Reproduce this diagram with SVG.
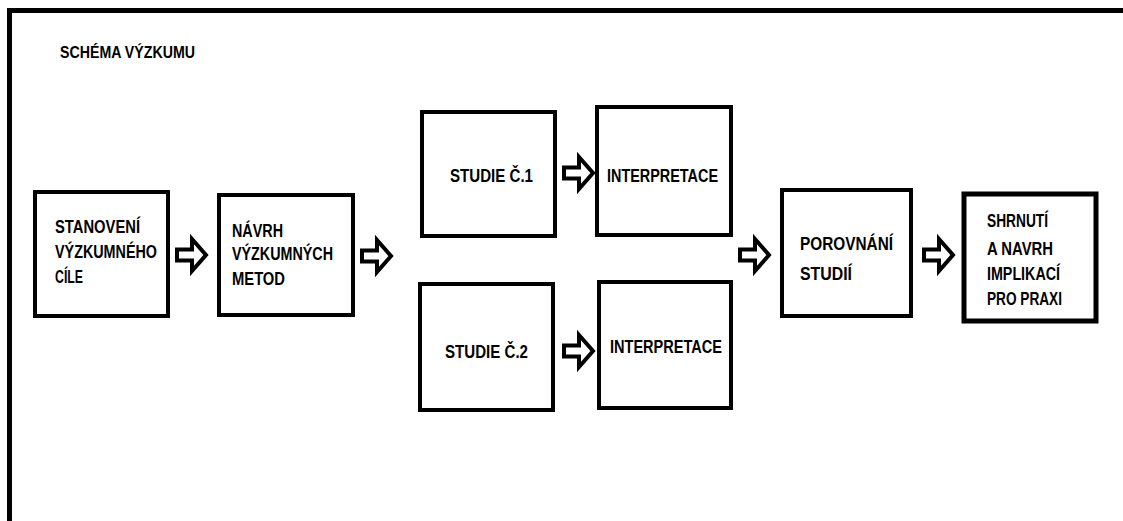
<svg xmlns="http://www.w3.org/2000/svg" xmlns:xlink="http://www.w3.org/1999/xlink" width="1123" height="521" viewBox="0 0 1123 521">
<style>
.box{fill:#fff;stroke:#000;stroke-width:4}
.t{font-family:"Liberation Sans",Arial,sans-serif;font-weight:bold;font-size:18.5px;fill:#000}
.s{font-size:17px}
.arr{fill:#fff;stroke:#000;stroke-width:4;stroke-linejoin:miter}
</style>
<defs>
<path id="blk" class="arr" d="M0,-5.5 H15 V-16 L29,0 L15,16 V5.5 H0 Z"/>
</defs>
<rect width="1123" height="521" fill="#fff"/>
<path d="M9.5,521 V10.5 H1123" fill="none" stroke="#000" stroke-width="5"/>
<text class="t s" x="60" y="58" textLength="135" lengthAdjust="spacingAndGlyphs">SCHÉMA VÝZKUMU</text>
<g id="n1">
<rect class="box" x="35" y="192" width="133" height="124"/>
<text class="t" x="55" y="233" textLength="85" lengthAdjust="spacingAndGlyphs">STANOVENÍ</text>
<text class="t" x="55" y="258" textLength="102" lengthAdjust="spacingAndGlyphs">VÝZKUMNÉHO</text>
<text class="t" x="55" y="283" textLength="28" lengthAdjust="spacingAndGlyphs">CÍLE</text>
</g>
<g id="n2">
<rect class="box" x="219" y="195" width="134" height="120"/>
<text class="t" x="232" y="237" textLength="51" lengthAdjust="spacingAndGlyphs">NÁVRH</text>
<text class="t" x="232" y="260" textLength="101" lengthAdjust="spacingAndGlyphs">VÝZKUMNÝCH</text>
<text class="t" x="232" y="285" textLength="53" lengthAdjust="spacingAndGlyphs">METOD</text>
</g>
<g id="n3">
<rect class="box" x="422" y="112" width="133" height="124"/>
<text class="t" x="450" y="182" textLength="83" lengthAdjust="spacingAndGlyphs">STUDIE Č.1</text>
</g>
<g id="n4">
<rect class="box" x="597" y="107" width="134" height="128"/>
<text class="t" x="607" y="182" textLength="111" lengthAdjust="spacingAndGlyphs">INTERPRETACE</text>
</g>
<g id="n5">
<rect class="box" x="420" y="284" width="133" height="126"/>
<text class="t" x="445" y="358" textLength="83" lengthAdjust="spacingAndGlyphs">STUDIE Č.2</text>
</g>
<g id="n6">
<rect class="box" x="599" y="282" width="132" height="126"/>
<text class="t" x="610" y="353" textLength="112" lengthAdjust="spacingAndGlyphs">INTERPRETACE</text>
</g>
<g id="n7">
<rect class="box" x="782" y="190" width="129" height="126"/>
<text class="t" x="800" y="250" textLength="93" lengthAdjust="spacingAndGlyphs">POROVNÁNÍ</text>
<text class="t" x="800" y="280" textLength="52" lengthAdjust="spacingAndGlyphs">STUDIÍ</text>
</g>
<g id="n8">
<rect class="box" x="964" y="194" width="132" height="127" style="stroke-width:5"/>
<text class="t" x="987" y="227" textLength="61" lengthAdjust="spacingAndGlyphs">SHRNUTÍ</text>
<text class="t" x="987" y="255" textLength="66" lengthAdjust="spacingAndGlyphs">A NAVRH</text>
<text class="t" x="987" y="280" textLength="73" lengthAdjust="spacingAndGlyphs">IMPLIKACÍ</text>
<text class="t" x="987" y="305" textLength="75" lengthAdjust="spacingAndGlyphs">PRO PRAXI</text>
</g>
<g id="connectors">
<use xlink:href="#blk" transform="translate(177,255)"/>
<use xlink:href="#blk" transform="translate(362,256)"/>
<use xlink:href="#blk" transform="translate(564,173)"/>
<use xlink:href="#blk" transform="translate(564,351)"/>
<use xlink:href="#blk" transform="translate(740,255)"/>
<use xlink:href="#blk" transform="translate(924,255)"/>
</g>
</svg>
